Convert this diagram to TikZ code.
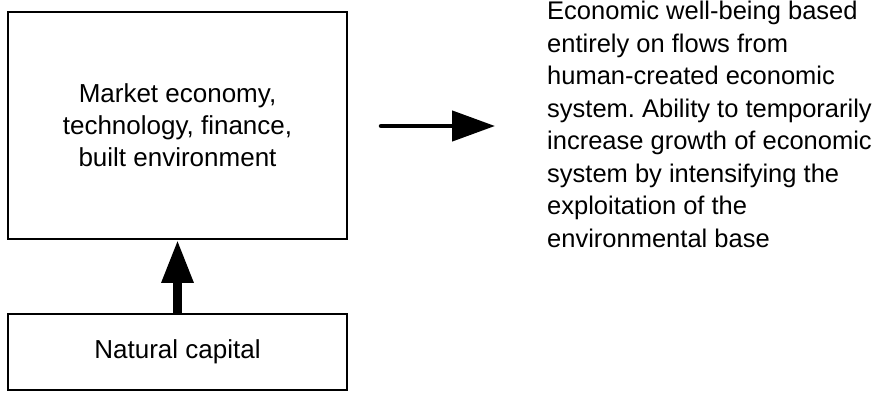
\documentclass[tikz,border=0pt]{standalone}
\usepackage{fontspec}
\setmainfont{Liberation Sans}
\usetikzlibrary{arrows.meta}
\frenchspacing
\begin{document}
\begin{tikzpicture}[x=1pt,y=-1pt,
  boxstyle/.style={draw, line width=1.8pt, inner sep=0pt, align=center,
    font=\fontsize{26}{32}\selectfont},
  bigarrow/.style={line width=#1, -{Triangle[length=43pt,width=30pt]}}]
\useasboundingbox (0,0) rectangle (877,393);
\node[boxstyle, minimum width=339pt, minimum height=227pt] (econ) at (177.5,125.5)
  {Market economy,\\technology, finance,\\built environment};
\node[boxstyle, minimum width=339pt, minimum height=76pt] (nat) at (177.5,352)
  {Natural capital};
\node[anchor=north west, inner sep=0pt, align=left,
  font=\fontsize{25.5}{32.5}\selectfont] (txt) at (547,1)
  {Economic well-being based\\entirely on flows from\\human-created economic\\system. Ability to temporarily\\increase growth of economic\\system by intensifying the\\exploitation of the\\environmental base};
\draw[bigarrow=9pt] (nat.north) -- (econ.south);
\coordinate (a1) at (381,126);
\coordinate (a2) at (495,126);
\draw[bigarrow=4.5pt, line cap=round] (a1) -- (a2);
\end{tikzpicture}
\end{document}
